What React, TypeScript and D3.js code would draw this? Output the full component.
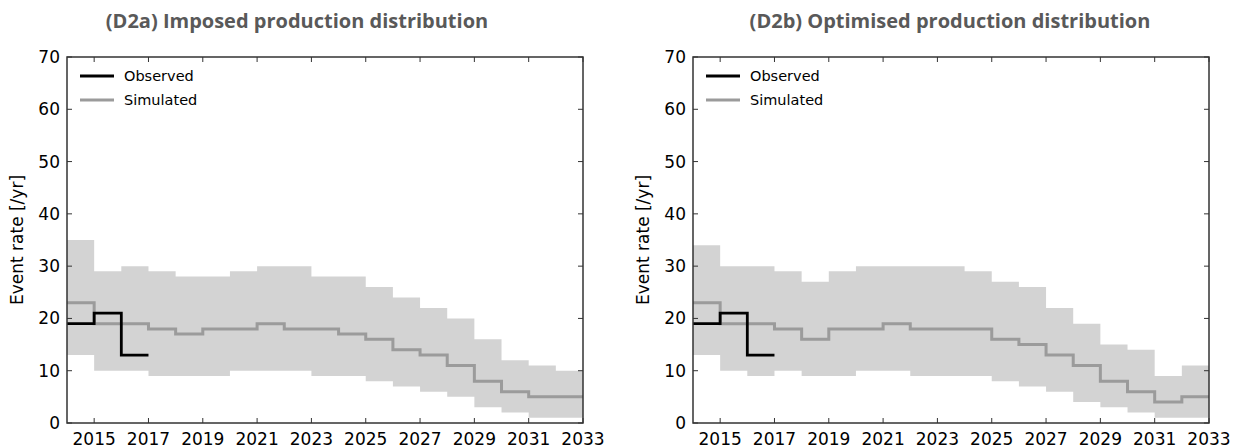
import React from 'react';
import * as d3 from 'd3';

const years = [2014, 2015, 2016, 2017, 2018, 2019, 2020, 2021, 2022, 2023, 2024, 2025, 2026, 2027, 2028, 2029, 2030, 2031, 2032];
const endYear = 2033;
const startYear = 2014;

const obsYears = [2014, 2015, 2016];
const obsValues = [19, 21, 13];
const obsEnd = 2017;

const leftUpper = [35, 29, 30, 29, 28, 28, 29, 30, 30, 28, 28, 26, 24, 22, 20, 16, 12, 11, 10];
const leftLower = [13, 10, 10, 9, 9, 9, 10, 10, 10, 9, 9, 8, 7, 6, 5, 3, 2, 1, 1];
const leftMedian = [23, 19, 19, 18, 17, 18, 18, 19, 18, 18, 17, 16, 14, 13, 11, 8, 6, 5, 5];

const rightUpper = [34, 30, 30, 29, 27, 29, 30, 30, 30, 30, 29, 27, 26, 22, 19, 15, 14, 9, 11];
const rightLower = [13, 10, 9, 10, 9, 9, 10, 10, 9, 9, 9, 8, 7, 6, 4, 3, 2, 1, 1];
const rightMedian = [23, 19, 19, 18, 16, 18, 18, 19, 18, 18, 18, 16, 15, 13, 11, 8, 6, 4, 5];

const xTicks = [2015, 2017, 2019, 2021, 2023, 2025, 2027, 2029, 2031, 2033];
const yTicks = [0, 10, 20, 30, 40, 50, 60, 70];

const titleLeft = '(D2a) Imposed production distribution';
const titleRight = '(D2b) Optimised production distribution';
const yLabel = 'Event rate [/yr]';
const legendLabels = ['Observed', 'Simulated'];

const TOP = 57;
const BOTTOM = 423;
const FONT = '"DejaVu Sans", sans-serif';

type PanelProps = {
  left: number;
  right: number;
  title: string;
  titleX: number;
  upper: number[];
  lower: number[];
  median: number[];
};

function Panel({ left, right, title, titleX, upper, lower, median }: PanelProps) {
  const x = d3.scaleLinear().domain([startYear, endYear]).range([left, right]);
  const y = d3.scaleLinear().domain([0, 70]).range([BOTTOM, TOP]);

  const bandData = years.map((yr, i) => ({ yr, lo: lower[i], hi: upper[i] }));
  bandData.push({ yr: endYear, lo: lower[lower.length - 1], hi: upper[upper.length - 1] });
  const area = d3
    .area<{ yr: number; lo: number; hi: number }>()
    .x((d) => x(d.yr))
    .y0((d) => y(d.lo))
    .y1((d) => y(d.hi))
    .curve(d3.curveStepAfter);

  const medData = years.map((yr, i) => ({ yr, v: median[i] }));
  medData.push({ yr: endYear, v: median[median.length - 1] });
  const line = d3
    .line<{ yr: number; v: number }>()
    .x((d) => x(d.yr))
    .y((d) => y(d.v))
    .curve(d3.curveStepAfter);

  const obsData = obsYears.map((yr, i) => ({ yr, v: obsValues[i] }));
  obsData.push({ yr: obsEnd, v: obsValues[obsValues.length - 1] });

  const tickLen = 5;
  const legendX = left + 13;

  return (
    <g>
      <text
        x={titleX}
        y={28}
        textAnchor="middle"
        fontFamily='"Open Sans", sans-serif'
        fontWeight="bold"
        fontSize={20}
        fill="#595959"
      >
        {title}
      </text>
      <path d={area(bandData) || ''} fill="#d3d3d3" stroke="none" />
      <path d={line(medData) || ''} fill="none" stroke="#9b9b9b" strokeWidth={3} />
      <path d={line(obsData) || ''} fill="none" stroke="#000" strokeWidth={2.8} />

      {xTicks.map((t) => (
        <g key={'x' + t}>
          <line x1={x(t)} x2={x(t)} y1={BOTTOM} y2={BOTTOM - tickLen} stroke="#333" strokeWidth={1} />
          <line x1={x(t)} x2={x(t)} y1={TOP} y2={TOP + tickLen} stroke="#333" strokeWidth={1} />
          <text x={x(t)} y={BOTTOM + 22} textAnchor="middle" fontFamily={FONT} fontSize={17} fill="#000">
            {t}
          </text>
        </g>
      ))}
      {yTicks.map((t) => (
        <g key={'y' + t}>
          <line x1={left} x2={left + tickLen} y1={y(t)} y2={y(t)} stroke="#333" strokeWidth={1} />
          <line x1={right} x2={right - tickLen} y1={y(t)} y2={y(t)} stroke="#333" strokeWidth={1} />
          <text x={left - 7} y={y(t) + 6} textAnchor="end" fontFamily={FONT} fontSize={17} fill="#000">
            {t}
          </text>
        </g>
      ))}
      <rect x={left} y={TOP} width={right - left} height={BOTTOM - TOP} fill="none" stroke="#333" strokeWidth={1.5} />

      <text
        transform={`translate(${left - 44},${(TOP + BOTTOM) / 2}) rotate(-90)`}
        textAnchor="middle"
        fontFamily={FONT}
        fontSize={17}
        fill="#000"
      >
        {yLabel}
      </text>

      <line x1={legendX} x2={legendX + 34} y1={76} y2={76} stroke="#000" strokeWidth={2.8} />
      <text x={legendX + 44} y={81} fontFamily={FONT} fontSize={14.5} fill="#000">
        {legendLabels[0]}
      </text>
      <line x1={legendX} x2={legendX + 34} y1={100} y2={100} stroke="#9b9b9b" strokeWidth={3} />
      <text x={legendX + 44} y={105} fontFamily={FONT} fontSize={14.5} fill="#000">
        {legendLabels[1]}
      </text>
    </g>
  );
}

export default function App() {
  return (
    <svg
      width={1241}
      height={448}
      style={{ position: 'absolute', left: 0, top: 0, background: '#fff' }}
    >
      <rect x={0} y={0} width={1241} height={448} fill="#fff" />
      <Panel left={67} right={583} title={titleLeft} titleX={297} upper={leftUpper} lower={leftLower} median={leftMedian} />
      <Panel left={693} right={1209} title={titleRight} titleX={950} upper={rightUpper} lower={rightLower} median={rightMedian} />
    </svg>
  );
}
